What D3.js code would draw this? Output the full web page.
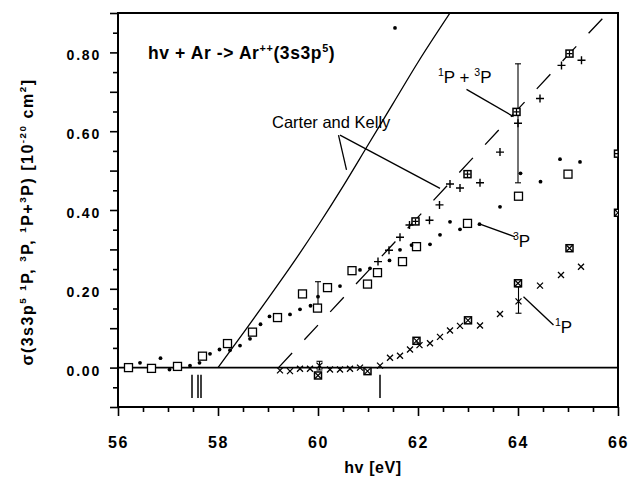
<!DOCTYPE html>
<html>
<head>
<meta charset="utf-8">
<script src="https://cdn.jsdelivr.net/npm/d3@7"></script>
<style>
  body { margin: 0; background: #fff; }
  svg { display: block; }
</style>
</head>
<body>
<svg id="chart" width="629" height="481"></svg>
<script>
// ---- data (eV, 10^-20 cm^2) ----
const p3Dots = [
  [56.44, 0.012], [56.85, 0.024], [57.03, -0.005], [57.44, 0.005], [57.63, 0.012],
  [57.84, 0.035], [58.03, 0.046], [58.24, 0.044], [58.44, 0.056], [58.64, 0.073],
  [58.85, 0.110], [59.03, 0.130], [59.44, 0.135], [59.64, 0.148], [59.85, 0.157],
  [60.00, 0.180], [60.44, 0.207], [60.84, 0.248], [61.04, 0.252], [61.43, 0.272],
  [61.64, 0.299], [61.87, 0.311], [62.24, 0.313], [62.44, 0.337], [62.64, 0.370],
  [62.84, 0.351], [63.23, 0.364], [63.64, 0.408], [64.05, 0.493], [64.45, 0.472],
  [64.84, 0.529], [65.24, 0.522], [61.54, 0.862]
];
const p3Squares = [
  [56.21, 0.000], [56.67, -0.002], [57.19, 0.003], [57.69, 0.029], [58.19, 0.061],
  [58.69, 0.090], [59.19, 0.127], [59.69, 0.187], [59.99, 0.151], [60.19, 0.203],
  [60.68, 0.246], [60.99, 0.212], [61.19, 0.241], [61.69, 0.269], [61.97, 0.307],
  [62.99, 0.366], [64.01, 0.435], [65.00, 0.491]
];
const sumPlus = [
  [61.20, 0.269], [61.42, 0.298], [61.64, 0.331], [61.83, 0.362], [62.23, 0.374],
  [62.43, 0.413], [62.64, 0.466], [62.84, 0.456], [63.24, 0.469], [63.64, 0.547],
  [64.00, 0.620], [64.44, 0.683], [64.87, 0.767], [65.27, 0.780]
];
const p1Cross = [
  [59.24, -0.007], [59.44, -0.009], [59.64, -0.003], [59.84, -0.003], [60.03, 0.005],
  [60.24, -0.005], [60.44, -0.005], [60.64, -0.003], [60.84, 0.000], [61.24, 0.005],
  [61.44, 0.025], [61.64, 0.030], [61.84, 0.046], [62.03, 0.057], [62.24, 0.062],
  [62.44, 0.078], [62.64, 0.094], [62.84, 0.106], [63.24, 0.107], [63.64, 0.136],
  [64.01, 0.168], [64.44, 0.208], [64.86, 0.235], [65.26, 0.256]
];
const p1SqCross = [
  [60.00, -0.020], [60.99, -0.009], [61.97, 0.068], [63.00, 0.120],
  [64.00, 0.214], [65.03, 0.303], [66.00, 0.393]
];
const sumSqPlus = [
  [61.95, 0.371], [62.99, 0.491], [63.97, 0.649], [65.03, 0.797], [66.00, 0.543]
];
// [x, low, high]
const errorBars = [
  [60.00, 0.145, 0.218], [64.00, 0.469, 0.771], [64.01, 0.138, 0.205], [60.03, -0.006, 0.016]
];
// Carter and Kelly theory
const ckSolid = [
  [58.0, 0.000], [58.5, 0.087], [59.0, 0.175], [59.5, 0.265], [60.0, 0.360],
  [60.5, 0.460], [61.0, 0.565], [61.5, 0.670], [62.0, 0.775], [62.64, 0.900]
];
const ckDashed = [
  [59.21, 0.000], [60.0, 0.108], [61.0, 0.245], [62.0, 0.382], [63.0, 0.519],
  [64.0, 0.656], [65.0, 0.793], [65.72, 0.890]
];
// threshold markers below the zero line
const thresholds = [57.48, 57.60, 57.66, 61.24];

const xTickLabels = [56, 58, 60, 62, 64, 66];
const yTickLabels = [0, 0.2, 0.4, 0.6, 0.8];

// ---- layout ----
const font = "'Liberation Sans', Arial, Helvetica, sans-serif";
const svg = d3.select("#chart");
const x = d3.scaleLinear().domain([56, 66]).range([118, 618]);
const y = d3.scaleLinear().domain([-0.1, 0.9]).range([407, 13]);

svg.append("defs").append("clipPath").attr("id", "plot")
  .append("rect")
    .attr("x", x(56)).attr("y", y(0.9))
    .attr("width", x(66) - x(56)).attr("height", y(-0.1) - y(0.9));

// rich text helper: parts = [[text, isSuperscript], ...]
const rich = (sel, parts, size) => {
  let up = false;
  parts.forEach(([str, sup]) => {
    const t = sel.append("tspan").text(str).attr("font-size", sup ? size * 0.62 : size);
    if (sup && !up) { t.attr("dy", -size * 0.42); up = true; }
    else if (!sup && up) { t.attr("dy", size * 0.42); up = false; }
  });
};

/**************/
/*  Axes      */
/**************/
const xTicks = d3.range(56, 66.01, 0.5);
const gx = svg.append("g")
  .attr("transform", `translate(0,${y(-0.1)})`)
  .call(d3.axisBottom(x).tickValues(xTicks).tickSize(5)
    .tickFormat(d => xTickLabels.includes(d) ? d : ""));
gx.select(".domain").remove();
gx.selectAll(".tick line")
  .attr("y2", d => xTickLabels.includes(d) ? 9 : 5)
  .attr("stroke-width", 1.6);
gx.selectAll(".tick text")
  .attr("y", 41).attr("dy", 0)
  .attr("font-family", font).attr("font-weight", "bold")
  .attr("font-size", 16).attr("letter-spacing", "1.5px").attr("fill", "#000");

const yTicks = d3.range(-2, 19).map(i => i / 20);
const isLabelled = d => yTickLabels.some(v => Math.abs(v - d) < 1e-9);
const isMajor = d => Math.abs(Math.round(d * 10) - d * 10) < 1e-9;
const gy = svg.append("g")
  .attr("transform", `translate(${x(56)},0)`)
  .call(d3.axisLeft(y).tickValues(yTicks).tickSize(5)
    .tickFormat(d => isLabelled(d) ? d3.format(".2f")(d) : ""));
gy.select(".domain").remove();
gy.selectAll(".tick line")
  .attr("x2", d => isMajor(d) ? -8 : -5)
  .attr("stroke-width", 1.6);
gy.selectAll(".tick text")
  .attr("x", -17).attr("dy", "0.53em")
  .attr("font-family", font).attr("font-weight", "bold")
  .attr("font-size", 14).attr("letter-spacing", "1.8px").attr("fill", "#000");

// frame and zero line
svg.append("rect")
  .attr("x", x(56)).attr("y", y(0.9))
  .attr("width", x(66) - x(56)).attr("height", y(-0.1) - y(0.9))
  .attr("fill", "none").attr("stroke", "#000").attr("stroke-width", 2);
svg.append("line")
  .attr("x1", x(56)).attr("x2", x(66)).attr("y1", y(0)).attr("y2", y(0))
  .attr("stroke", "#000").attr("stroke-width", 1.6);

// axis titles
rich(svg.append("text")
  .attr("x", (x(56) + x(66)) / 2 + 5).attr("y", 473)
  .attr("text-anchor", "middle")
  .attr("font-family", font).attr("font-weight", "bold").attr("letter-spacing", "0.6px"),
  [["hv [eV]", false]], 16);

rich(svg.append("text")
  .attr("transform", `translate(33,${(y(0.9) + y(-0.1)) / 2 + 12}) rotate(-90)`)
  .attr("text-anchor", "middle")
  .attr("font-family", font).attr("font-weight", "bold").attr("letter-spacing", "1.5px"),
  [["σ(3s3p", false], ["5", true], [" ", false], ["1", true], ["P, ", false], ["3", true],
   ["P, ", false], ["1", true], ["P+", false], ["3", true], ["P) [10", false], ["-20", true],
   [" cm", false], ["2", true], ["]", false]], 16);

/**************/
/*  Plot      */
/**************/
const plot = svg.append("g").attr("clip-path", "url(#plot)");

const line = d3.line().x(d => x(d[0])).y(d => y(d[1]));
plot.append("path")
  .attr("d", line.curve(d3.curveMonotoneX)(ckSolid))
  .attr("fill", "none").attr("stroke", "#000").attr("stroke-width", 1.3);
plot.append("path")
  .attr("d", d3.line().x(d => x(d[0])).y(d => y(d[1]))(ckDashed))
  .attr("fill", "none").attr("stroke", "#000").attr("stroke-width", 1.3)
  .attr("stroke-dasharray", "20,18");

// threshold markers
plot.selectAll(".thr")
  .data(thresholds)
  .join("line")
    .attr("x1", d => x(d)).attr("x2", d => x(d))
    .attr("y1", y(-0.018)).attr("y2", y(-0.077))
    .attr("stroke", "#000").attr("stroke-width", 1.5);

// error bars
const eb = plot.selectAll(".eb").data(errorBars).join("g");
eb.append("line")
  .attr("x1", d => x(d[0])).attr("x2", d => x(d[0]))
  .attr("y1", d => y(d[1])).attr("y2", d => y(d[2]))
  .attr("stroke", "#000").attr("stroke-width", 1.1);
eb.selectAll(".cap")
  .data(d => [[d[0], d[1]], [d[0], d[2]]])
  .join("line")
    .attr("x1", d => x(d[0]) - 3).attr("x2", d => x(d[0]) + 3)
    .attr("y1", d => y(d[1])).attr("y2", d => y(d[1]))
    .attr("stroke", "#000").attr("stroke-width", 1.1);

const at = d => `translate(${x(d[0])},${y(d[1])})`;

// open squares
plot.selectAll(".sq").data(p3Squares).join("rect")
  .attr("transform", at)
  .attr("x", -4).attr("y", -4).attr("width", 8).attr("height", 8)
  .attr("fill", "#fff").attr("stroke", "#000").attr("stroke-width", 1.3);

// squares with cross / plus
const sqGlyph = (data, inner) => {
  const g = plot.selectAll(null).data(data).join("g").attr("transform", at);
  g.append("rect")
    .attr("x", -3.5).attr("y", -3.5).attr("width", 7).attr("height", 7)
    .attr("fill", "#fff").attr("stroke", "#000").attr("stroke-width", 1.5);
  g.append("path").attr("d", inner).attr("stroke", "#000").attr("stroke-width", 1.2);
};
sqGlyph(p1SqCross, "M-3,-3L3,3M-3,3L3,-3");
sqGlyph(sumSqPlus, "M-3,0H3M0,-3V3");

// dots
plot.selectAll(".dot").data(p3Dots).join("circle")
  .attr("transform", at).attr("r", 1.9).attr("fill", "#000");

// plus signs
plot.selectAll(".plus").data(sumPlus).join("path")
  .attr("transform", at).attr("d", "M-4,0H4M0,-4V4")
  .attr("stroke", "#000").attr("stroke-width", 1.4);

// crosses
plot.selectAll(".cross").data(p1Cross).join("path")
  .attr("transform", at).attr("d", "M-3,-3L3,3M-3,3L3,-3")
  .attr("stroke", "#000").attr("stroke-width", 1.3);

/**************/
/*  Labels    */
/**************/
const pointers = [
  [[60.41, 0.590], [60.57, 0.502]],
  [[60.44, 0.590], [62.44, 0.455]],
  [[62.97, 0.706], [63.91, 0.637]],
  [[63.24, 0.364], [63.94, 0.332]],
  [[64.11, 0.180], [64.71, 0.108]]
];
plot.selectAll(".ptr").data(pointers).join("path")
  .attr("d", d3.line().x(d => x(d[0])).y(d => y(d[1])))
  .attr("stroke", "#000").attr("stroke-width", 1.3);

const label = (pos, parts, size, bold, spacing) => rich(svg.append("text")
  .attr("x", x(pos[0])).attr("y", y(pos[1]))
  .attr("font-family", font).attr("font-weight", bold ? "bold" : "normal")
  .attr("letter-spacing", spacing || 0),
  parts, size);

label([56.6, 0.782], [["hv + Ar -> Ar", false], ["++", true], ["(3s3p", false], ["5", true], [")", false]], 17.5, true, "0.6px");
label([59.08, 0.607], [["Carter and Kelly", false]], 16.5, false);
label([62.40, 0.722], [["1", true], ["P + ", false], ["3", true], ["P", false]], 17, false);
label([63.90, 0.306], [["3", true], ["P", false]], 17, false);
label([64.74, 0.088], [["1", true], ["P", false]], 17, false);
</script>
</body>
</html>
